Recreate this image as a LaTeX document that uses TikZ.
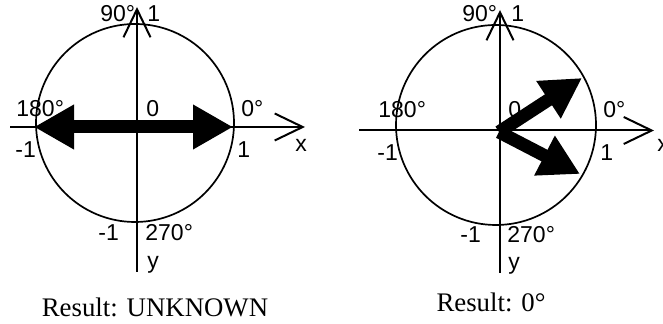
\documentclass[tikz,border=0pt]{standalone}
\usepackage{fontspec}
\setmainfont{Liberation Sans}
\newfontfamily\resultfont{Liberation Serif}
\usetikzlibrary{arrows.meta}

\tikzset{
  axisline/.style={line width=1pt, -{Straight Barb[length=14pt, width=13.5pt, line width=1pt]}},
  unitcircle/.style={line width=0.85pt},
  fattip/.style={Triangle[length=20pt, width=21pt]},
  fatarrow/.style={line width=6.5pt, -{Triangle[length=20pt, width=21pt]}},
  lbl/.style={inner sep=0pt, anchor=base west, font=\fontsize{11.5}{13}\selectfont},
  resultlbl/.style={inner sep=0pt, anchor=base, font=\resultfont\fontsize{13.4}{15}\selectfont}
}

\begin{document}
\begin{tikzpicture}[x=0.5pt, y=-0.5pt]
  \useasboundingbox (0,0) rectangle (663,324);

  % left: opposite vectors
  \coordinate (lxs) at (10,127);   \coordinate (lxe) at (305,127);
  \coordinate (lys) at (137,272);  \coordinate (lye) at (137,7);
  \draw[unitcircle] (135,123) circle (99);
  \draw[axisline] (lxs) -- (lxe);
  \draw[axisline] (lys) -- (lye);
  \coordinate (lva) at (34,127);   \coordinate (lvb) at (233,127);
  \draw[line width=6.5pt, {Triangle[length=20pt, width=21pt]}-{Triangle[length=20pt, width=21pt]}] (lva) -- (lvb);
  \node[lbl] (l90)   at (100,22)  {90°};
  \node[lbl] (ltop)  at (147,22)  {1};
  \node[lbl] (l180)  at (16,117)  {180°};
  \node[lbl] (lzero) at (146,117) {0};
  \node[lbl] (l0)    at (241,117) {0°};
  \node[lbl] (lx)    at (295,152) {x};
  \node[lbl] (lm1)   at (15,158)  {-1};
  \node[lbl] (lp1)   at (237,158) {1};
  \node[lbl] (lbot)  at (98,241)  {-1};
  \node[lbl] (l270)  at (145,241) {270°};
  \node[lbl] (ly)    at (147,269) {y};
  \node[resultlbl] (lres) at (155,317) {Result: UNKNOWN};

  % right: vectors around 0 degrees
  \coordinate (rxs) at (359,130.5); \coordinate (rxe) at (654,130.5);
  \coordinate (rys) at (500,273);   \coordinate (rye) at (500,10);
  \draw[unitcircle] (496,125) circle (100);
  \draw[axisline] (rxs) -- (rxe);
  \draw[axisline] (rys) -- (rye);
  \coordinate (rorg) at (499,132);
  \coordinate (rva) at (582,78);    \coordinate (rvb) at (580,174);
  \draw[fatarrow] (rorg) -- (rva);
  \draw[fatarrow] (rorg) -- (rvb);
  \node[lbl] (r90)   at (462,22)  {90°};
  \node[lbl] (rtop)  at (511,22)  {1};
  \node[lbl] (r180)  at (378,118) {180°};
  \node[lbl] (rzero) at (508,118) {0};
  \node[lbl] (r0)    at (603,118) {0°};
  \node[lbl] (rx)    at (657,152) {x};
  \node[lbl] (rm1)   at (377,161) {-1};
  \node[lbl] (rp1)   at (600,161) {1};
  \node[lbl] (rbot)  at (460,243) {-1};
  \node[lbl] (r270)  at (507,243) {270°};
  \node[lbl] (ry)    at (508,270) {y};
  \node[resultlbl] (rres) at (491,312) {Result: 0°};
\end{tikzpicture}
\end{document}
